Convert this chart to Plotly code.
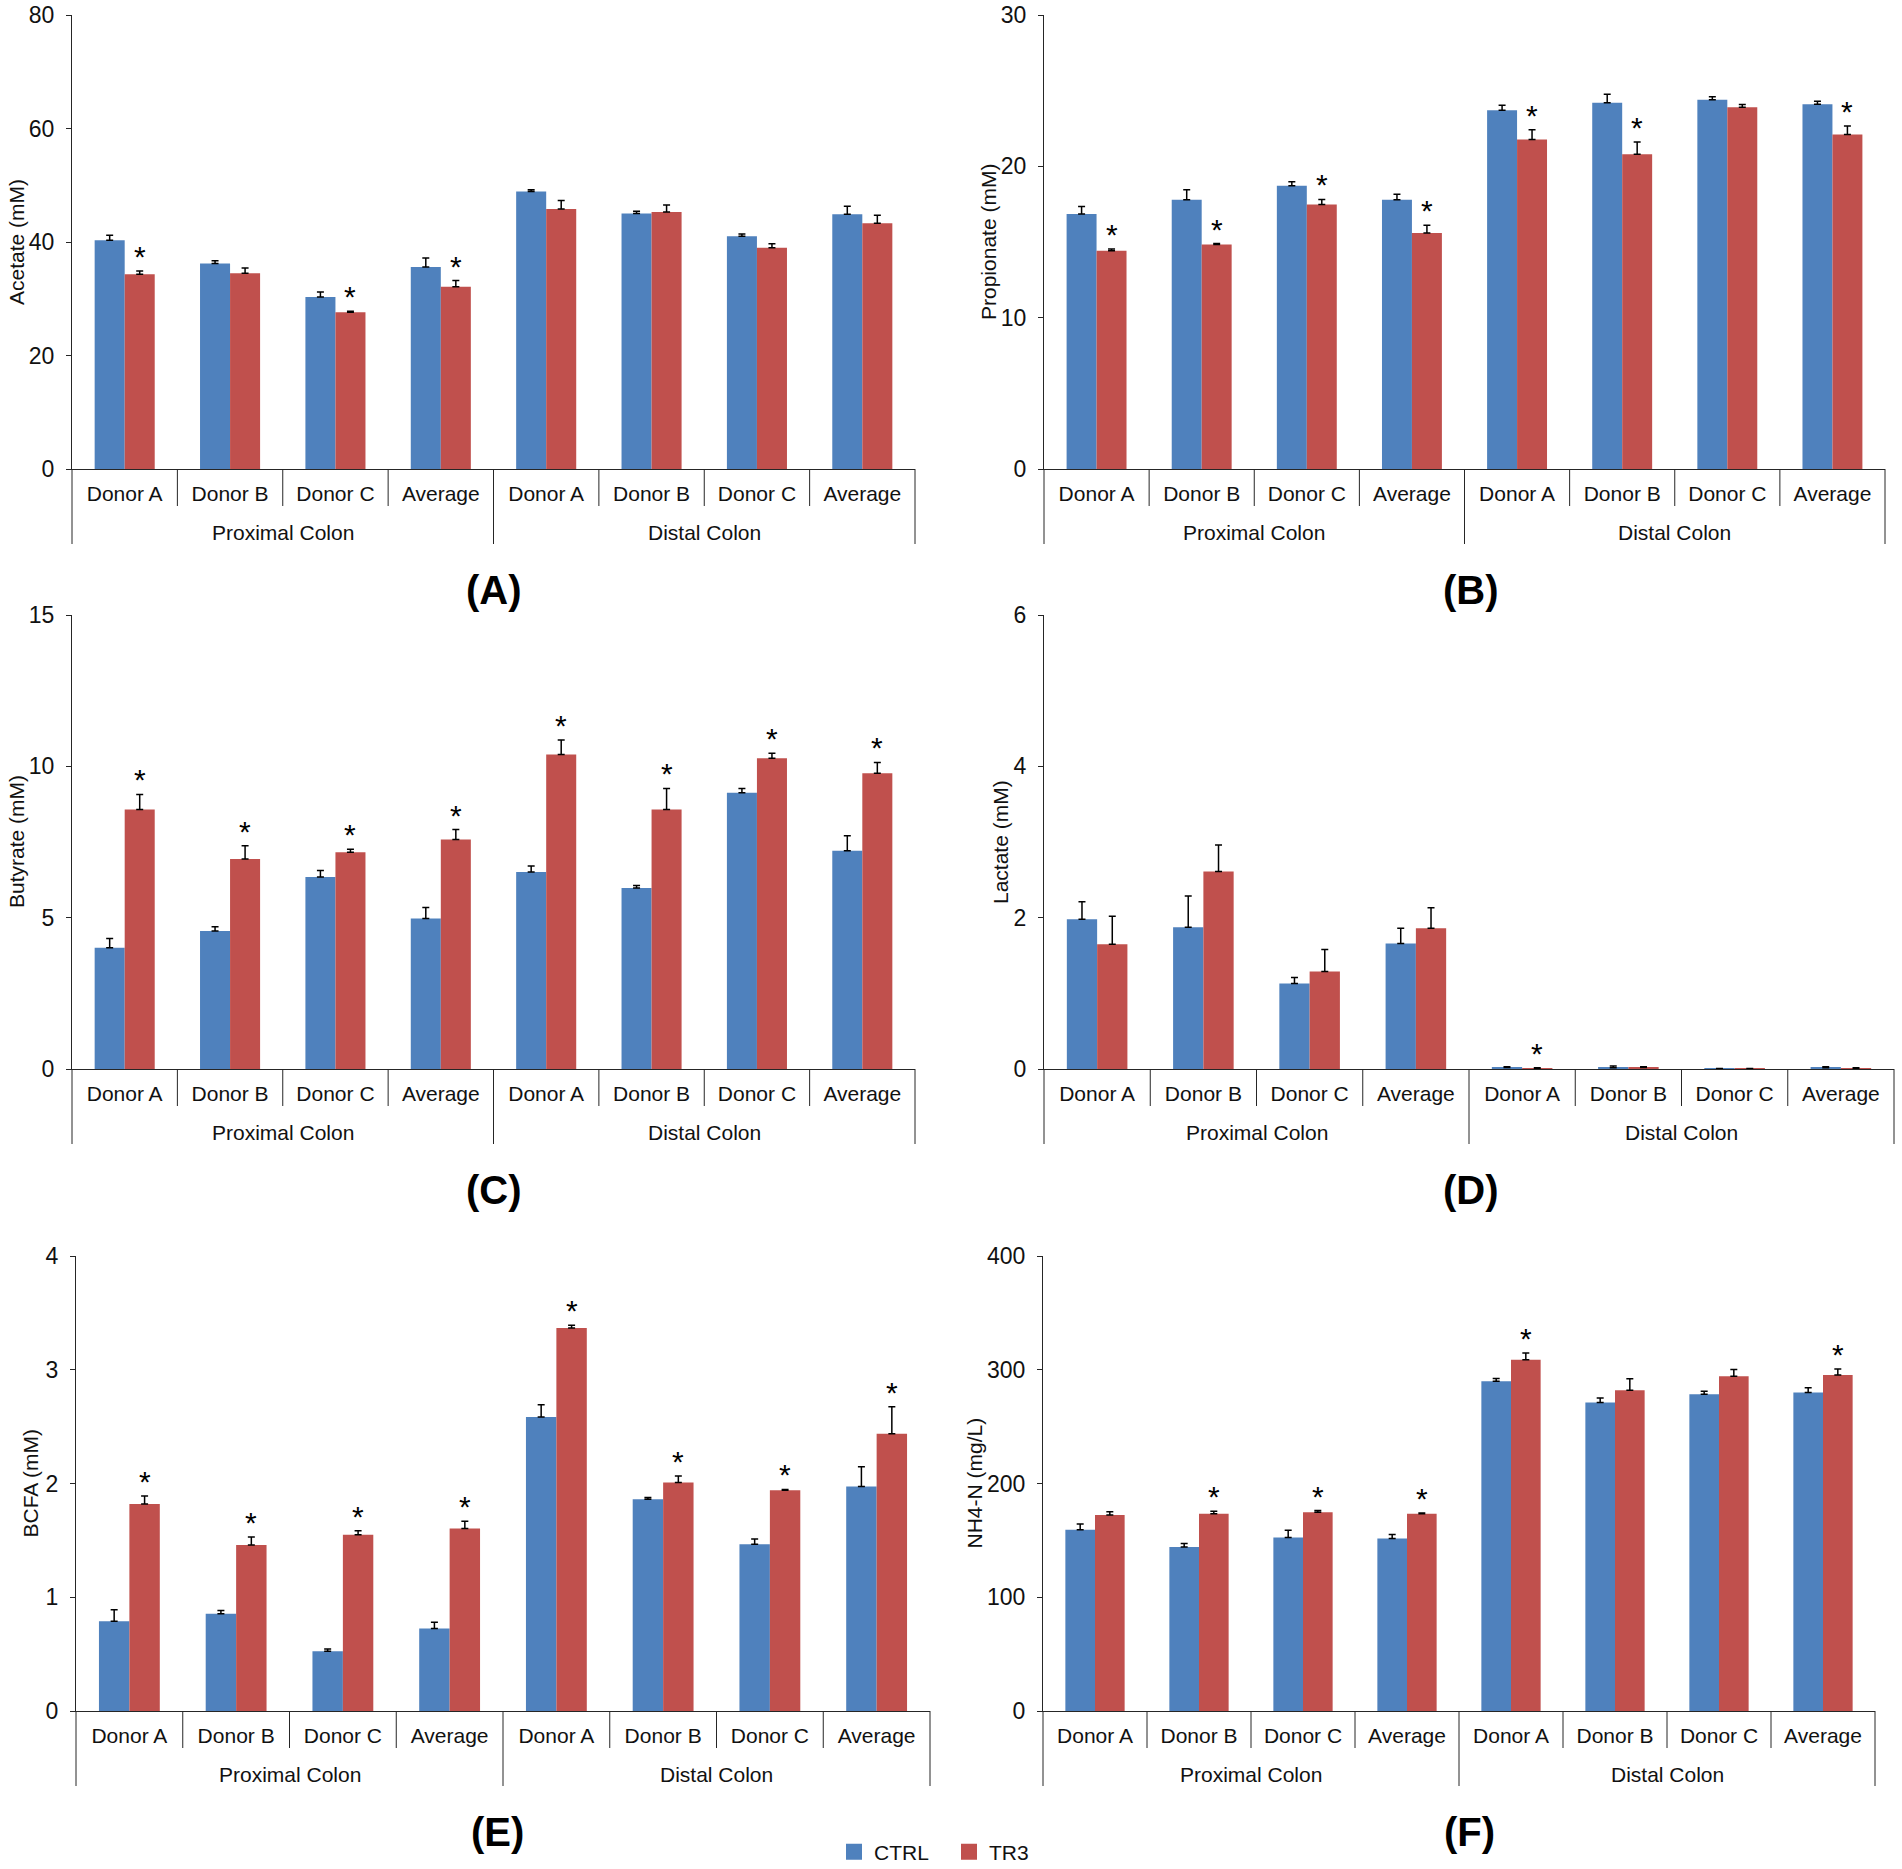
import plotly.graph_objects as go

W, H = 1902, 1869
FONT = "Liberation Sans, Arial, sans-serif"
BLUE = "#4F81BD"
RED = "#C0504D"
LINE = "#262626"
TXT = "#111111"
BARGAP = 0.43

categories = ["Donor A", "Donor B", "Donor C", "Average"] * 2
regions = ["Proximal Colon"] * 4 + ["Distal Colon"] * 4
series_names = ["CTRL", "TR3"]

acetate_ctrl = [40.3, 36.2, 30.3, 35.6, 48.9, 45.0, 41.0, 44.9]
acetate_ctrl_err = [0.9, 0.5, 0.9, 1.6, 0.3, 0.4, 0.4, 1.4]
acetate_tr3 = [34.3, 34.5, 27.6, 32.1, 45.8, 45.3, 39.0, 43.3]
acetate_tr3_err = [0.6, 0.9, 0.2, 1.1, 1.5, 1.2, 0.7, 1.4]
acetate_sig = [1, 0, 1, 1, 0, 0, 0, 0]

propionate_ctrl = [16.85, 17.8, 18.72, 17.8, 23.7, 24.2, 24.4, 24.1]
propionate_ctrl_err = [0.5, 0.65, 0.26, 0.36, 0.34, 0.57, 0.2, 0.2]
propionate_tr3 = [14.43, 14.84, 17.47, 15.6, 21.77, 20.8, 23.9, 22.1]
propionate_tr3_err = [0.1, 0.06, 0.34, 0.5, 0.65, 0.8, 0.18, 0.57]
propionate_sig = [1, 1, 1, 1, 1, 1, 0, 1]

butyrate_ctrl = [4.01, 4.56, 6.34, 4.97, 6.51, 5.98, 9.13, 7.21]
butyrate_ctrl_err = [0.3, 0.14, 0.22, 0.37, 0.2, 0.08, 0.14, 0.5]
butyrate_tr3 = [8.57, 6.94, 7.16, 7.58, 10.39, 8.57, 10.27, 9.77]
butyrate_tr3_err = [0.5, 0.44, 0.1, 0.33, 0.48, 0.7, 0.16, 0.36]
butyrate_sig = [1, 1, 1, 1, 1, 1, 1, 1]

lactate_ctrl = [1.98, 1.875, 1.13, 1.66, 0.02, 0.015, 0.005, 0.015]
lactate_ctrl_err = [0.23, 0.41, 0.08, 0.2, 0.01, 0.025, 0.003, 0.015]
lactate_tr3 = [1.65, 2.61, 1.29, 1.86, 0.01, 0.02, 0.005, 0.01]
lactate_tr3_err = [0.37, 0.35, 0.29, 0.27, 0.005, 0.01, 0.003, 0.005]
lactate_sig = [0, 0, 0, 0, 1, 0, 0, 0]

bcfa_ctrl = [0.79, 0.854, 0.525, 0.726, 2.585, 1.862, 1.466, 1.973]
bcfa_ctrl_err = [0.1, 0.03, 0.02, 0.054, 0.107, 0.015, 0.046, 0.175]
bcfa_tr3 = [1.82, 1.46, 1.55, 1.605, 3.367, 2.009, 1.941, 2.438]
bcfa_tr3_err = [0.07, 0.07, 0.035, 0.064, 0.025, 0.057, 0.007, 0.236]
bcfa_sig = [1, 1, 1, 1, 1, 1, 1, 1]

nh4_ctrl = [159.4, 144.1, 152.6, 151.6, 289.9, 271.3, 278.5, 279.9]
nh4_ctrl_err = [5.0, 3.2, 6.4, 3.6, 2.5, 3.9, 2.5, 4.3]
nh4_tr3 = [172.3, 173.4, 174.8, 173.4, 308.8, 282.0, 294.2, 295.3]
nh4_tr3_err = [2.9, 2.1, 1.4, 0.7, 6.0, 10.0, 6.1, 5.4]
nh4_sig = [0, 1, 1, 1, 1, 0, 0, 1]

panels = [
    dict(label="(A)", ytitle="Acetate (mM)", ymax=80, dtick=20,
         ctrl=acetate_ctrl, ctrl_err=acetate_ctrl_err, tr3=acetate_tr3, tr3_err=acetate_tr3_err, sig=acetate_sig,
         px=(72, 915, 15, 469), tdx=56, lx=494),
    dict(label="(B)", ytitle="Propionate (mM)", ymax=30, dtick=10,
         ctrl=propionate_ctrl, ctrl_err=propionate_ctrl_err, tr3=propionate_tr3, tr3_err=propionate_tr3_err, sig=propionate_sig,
         px=(1044, 1885, 15, 469), tdx=56, lx=1471),
    dict(label="(C)", ytitle="Butyrate (mM)", ymax=15, dtick=5,
         ctrl=butyrate_ctrl, ctrl_err=butyrate_ctrl_err, tr3=butyrate_tr3, tr3_err=butyrate_tr3_err, sig=butyrate_sig,
         px=(72, 915, 615, 1069), tdx=56, lx=494),
    dict(label="(D)", ytitle="Lactate (mM)", ymax=6, dtick=2,
         ctrl=lactate_ctrl, ctrl_err=lactate_ctrl_err, tr3=lactate_tr3, tr3_err=lactate_tr3_err, sig=lactate_sig,
         px=(1044, 1894, 615, 1069), tdx=44, lx=1471),
    dict(label="(E)", ytitle="BCFA (mM)", ymax=4, dtick=1,
         ctrl=bcfa_ctrl, ctrl_err=bcfa_ctrl_err, tr3=bcfa_tr3, tr3_err=bcfa_tr3_err, sig=bcfa_sig,
         px=(76, 930, 1256, 1711), tdx=46, lx=497),
    dict(label="(F)", ytitle="NH4-N (mg/L)", ymax=400, dtick=100,
         ctrl=nh4_ctrl, ctrl_err=nh4_ctrl_err, tr3=nh4_tr3, tr3_err=nh4_tr3_err, sig=nh4_sig,
         px=(1043, 1875, 1256, 1711), tdx=69, lx=1469),
]

fig = go.Figure()
n_cat = len(categories)
xpos = list(range(n_cat))
star_off = (1 - BARGAP) / 4
colors = {series_names[0]: BLUE, series_names[1]: RED}

for k, p in enumerate(panels):
    n = k + 1
    xa = "x" if n == 1 else f"x{n}"
    ya = "y" if n == 1 else f"y{n}"
    xl = "xaxis" if n == 1 else f"xaxis{n}"
    yl = "yaxis" if n == 1 else f"yaxis{n}"
    x0, x1, ytop, yzero = p["px"]
    dom_h = yzero - ytop

    for name, vals, errs in [(series_names[0], p["ctrl"], p["ctrl_err"]),
                             (series_names[1], p["tr3"], p["tr3_err"])]:
        fig.add_trace(go.Bar(
            x=xpos, y=vals, name=name, marker=dict(color=colors[name], line=dict(width=0)),
            error_y=dict(type="data", symmetric=False, array=errs, arrayminus=[0] * len(errs),
                         color="#000", thickness=1.5, width=3.5),
            xaxis=xa, yaxis=ya, showlegend=False, legendgroup=name, hoverinfo="x+y",
        ))

    fig.layout[xl] = dict(
        domain=[x0 / W, x1 / W], anchor=ya, range=[-0.5, n_cat - 0.5],
        tickmode="array", tickvals=xpos, ticktext=categories, ticks="",
        showline=True, linecolor=LINE, linewidth=1, showgrid=False, zeroline=False,
        tickfont=dict(family=FONT, size=21, color=TXT), ticklabelstandoff=6,
        automargin=False,
    )
    fig.layout[yl] = dict(
        domain=[1 - yzero / H, 1 - ytop / H], anchor=xa, range=[0, p["ymax"]],
        tickmode="linear", dtick=p["dtick"], tick0=0, ticks="outside", ticklen=5, tickwidth=1,
        tickcolor=LINE, showline=True, linecolor=LINE, linewidth=1, showgrid=False, zeroline=False,
        tickfont=dict(family=FONT, size=23, color=TXT), ticklabelstandoff=7,
        automargin=False,
    )

    # category / region dividers below the axis
    for b in range(n_cat + 1):
        full = b == 0 or b == n_cat or regions[b - 1] != regions[b]
        length = 75 if full else 37
        fig.add_shape(type="line", xref=f"{xa} domain", yref=f"{ya} domain",
                      x0=b / n_cat, x1=b / n_cat, y0=0, y1=-length / dom_h,
                      line=dict(color=LINE, width=1))

    # region labels
    seen = []
    for r in regions:
        if r not in seen:
            seen.append(r)
    for r in seen:
        idx = [i for i, rr in enumerate(regions) if rr == r]
        fig.add_annotation(x=sum(idx) / len(idx), xref=xa, y=-63 / dom_h, yref=f"{ya} domain",
                           text=r, showarrow=False, xanchor="center", yanchor="middle",
                           font=dict(family=FONT, size=21, color=TXT))

    # significance stars
    for i in range(n_cat):
        if p["sig"][i]:
            fig.add_annotation(x=xpos[i] + star_off, xref=xa, y=p["tr3"][i] + p["tr3_err"][i], yref=ya,
                               text="*", showarrow=False, xanchor="center", yanchor="bottom", yshift=-4,
                               font=dict(family=FONT, size=30, color="#000"))

    # y-axis title
    fig.add_annotation(x=(x0 - p["tdx"]) / W, xref="paper", y=1 - (ytop + yzero) / 2 / H, yref="paper",
                       text=p["ytitle"], textangle=-90, showarrow=False,
                       xanchor="center", yanchor="middle",
                       font=dict(family=FONT, size=21, color=TXT))

    # panel label
    fig.add_annotation(x=p["lx"] / W, xref="paper", y=1 - (yzero + 121) / H, yref="paper",
                       text=f"<b>{p['label']}</b>", showarrow=False, xanchor="center", yanchor="middle",
                       font=dict(family=FONT, size=40, color="#000"))

# legend entries (square swatches like the original)
for name in series_names:
    fig.add_trace(go.Scatter(x=[None], y=[None], mode="markers", name=name,
                             marker=dict(symbol="square", size=18, color=colors[name]),
                             xaxis="x", yaxis="y", showlegend=True, legendgroup=name))

fig.update_layout(
    template="none",
    width=W, height=H, margin=dict(l=0, r=0, t=0, b=0, autoexpand=False),
    paper_bgcolor="white", plot_bgcolor="white",
    font=dict(family=FONT, color=TXT),
    barmode="group", bargap=BARGAP, bargroupgap=0,
    showlegend=True,
    legend=dict(orientation="h", x=834 / W, xanchor="left", y=1 - 1852 / H, yanchor="middle",
                font=dict(family=FONT, size=21, color=TXT), bgcolor="rgba(0,0,0,0)",
                itemwidth=30, itemsizing="trace", entrywidth=70, entrywidthmode="pixels"),
)

fig.write_html(
    "out.html",
    config={"displayModeBar": False},
    post_script="document.body.style.margin='0px';document.body.style.padding='0px';"
                "document.documentElement.style.overflow='hidden';",
)
